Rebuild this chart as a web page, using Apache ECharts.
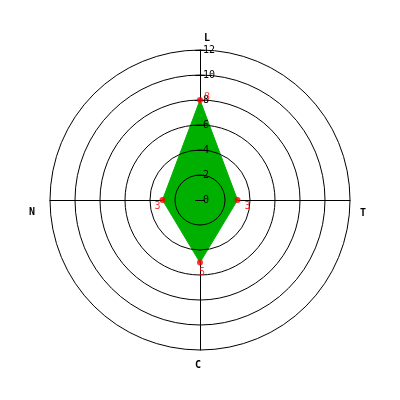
<!DOCTYPE html>
<html><head><meta charset="utf-8">
<script src="https://cdn.jsdelivr.net/npm/echarts@6/dist/echarts.min.js"></script>
<style>html,body{margin:0;padding:0;background:#fff}#c{width:400px;height:400px}</style>
</head><body><div id="c"></div>
<script>
// indicators listed counter-clockwise starting at the top
const indicatorNames = ['L', 'N', 'C', 'T'];
const values = [8, 3, 5, 3];
const axisMax = 12;
const tickStep = 2;

const font = 'DejaVu Sans Mono';
const labelOffsets = { L: [7, -3], N: [-5, 6], C: [2, 10], T: [10, 6] };
const namePad = { L: [0, 0, 0, 14], N: [25, 8, 0, 0], C: [3, 4, 0, 0], T: [26, 0, 0, 3] };

const splitNumber = axisMax / tickStep;
const baseRadar = { center: [200, 200], radius: 150, shape: 'circle', startAngle: 90, splitNumber: splitNumber, splitArea: { show: false } };

function indicators(extraFirst) {
  return indicatorNames.map((n, i) => {
    const o = { name: n, max: axisMax, min: 0 };
    if (i === 0 && extraFirst) Object.assign(o, extraFirst);
    return o;
  });
}

const rich = {};
indicatorNames.forEach(n => { rich[n] = { padding: namePad[n], fontFamily: font, fontWeight: 'bold', fontSize: 10, color: '#000' }; });

const option = {
  animation: false,
  radar: [
    Object.assign({}, baseRadar, {
      z: 1,
      indicator: indicators(),
      axisLine: { show: true, lineStyle: { color: '#000', width: 1 } },
      splitLine: { show: false },
      axisTick: { show: false },
      axisLabel: { show: false },
      axisName: { show: true, formatter: n => '{' + n + '|' + n + '}', rich: rich },
      nameGap: 7
    }),
    Object.assign({}, baseRadar, {
      z: 3,
      indicator: indicators({
        axisTick: { show: true, length: 5, lineStyle: { color: '#000' } },
        axisLabel: { show: true, color: '#000', fontFamily: font, fontSize: 10, margin: -3, align: 'left' }
      }),
      axisLine: { show: false },
      splitLine: { show: true, lineStyle: { color: '#000', width: 1 } },
      axisTick: { show: false },
      axisLabel: { show: false },
      axisName: { show: false }
    }),
    Object.assign({}, baseRadar, {
      z: 3,
      indicator: indicators({
        axisTick: { show: true, length: -5, lineStyle: { color: '#000' } }
      }),
      axisLine: { show: false },
      splitLine: { show: false },
      axisTick: { show: false },
      axisLabel: { show: false },
      axisName: { show: false }
    })
  ],
  polar: { center: [200, 200], radius: 150 },
  angleAxis: { type: 'value', min: 0, max: 360, startAngle: 90, clockwise: false, show: false },
  radiusAxis: { type: 'value', min: 0, max: axisMax, show: false },
  series: [
    {
      type: 'radar', radarIndex: 0, z: 2, symbol: 'none', silent: true,
      lineStyle: { color: '#00b000', width: 1 },
      areaStyle: { color: '#00b000', opacity: 1 },
      data: [{ value: values }]
    },
    {
      type: 'scatter', coordinateSystem: 'polar', z: 4, symbol: 'circle', symbolSize: 6,
      itemStyle: { color: '#ff0000' },
      data: values.map((v, i) => ({
        value: [v, i * 360 / indicatorNames.length],
        label: { show: true, position: 'inside', offset: labelOffsets[indicatorNames[i]], formatter: String(v), color: '#ff0000', fontFamily: font, fontSize: 10 }
      }))
    }
  ]
};
echarts.init(document.getElementById('c')).setOption(option);
</script></body></html>
